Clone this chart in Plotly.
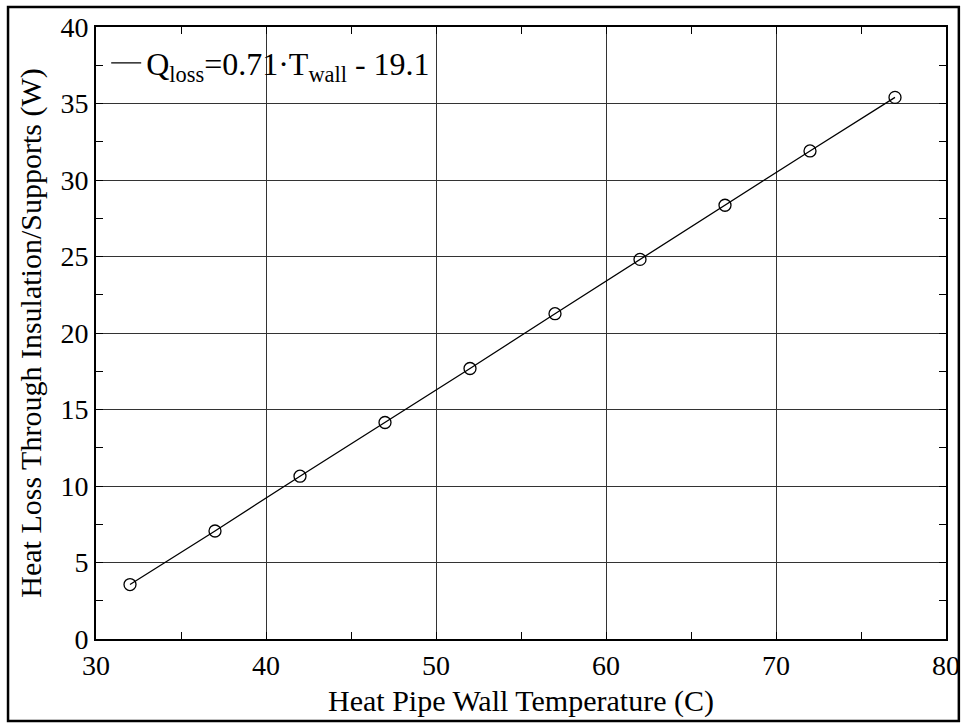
import plotly.graph_objects as go

# Measured heat loss vs. heat pipe wall temperature
wall_temp_c = [32, 37, 42, 47, 52, 57, 62, 67, 72, 77]
heat_loss_w = [3.56, 7.06, 10.64, 14.15, 17.68, 21.26, 24.81, 28.35, 31.9, 35.4]

x_ticks = [30, 40, 50, 60, 70, 80]
y_ticks = [0, 5, 10, 15, 20, 25, 30, 35, 40]

FONT = "Liberation Serif"
TICK_SIZE = 28
TITLE_SIZE = 30

fig = go.Figure()

# Line (shown in the legend as a plain line sample)
fig.add_trace(go.Scatter(
    x=wall_temp_c, y=heat_loss_w, mode="lines",
    line=dict(color="black", width=1.3),
    name="Q<sub>loss</sub>=0.71·T<sub>wall</sub> - 19.1",
    showlegend=True,
))
# Open circle markers at each measurement
fig.add_trace(go.Scatter(
    x=wall_temp_c, y=heat_loss_w, mode="markers",
    marker=dict(symbol="circle-open", size=12, color="black",
                line=dict(color="black", width=1.3)),
    showlegend=False,
))

L, R, T, B = 96, 16, 27, 85
W, H = 972, 724
pw, ph = W - L - R, H - T - B

axis_common = dict(
    showline=True, linecolor="black", linewidth=2, mirror="ticks",
    showgrid=True, gridcolor="#333333", gridwidth=1,
    ticks="inside", ticklen=0, tickcolor="black",
    zeroline=False,
    tickfont=dict(family=FONT, size=TICK_SIZE, color="black"),
    minor=dict(ticks="inside", ticklen=7, tickwidth=1.2, tickcolor="black",
               showgrid=False),
)

fig.update_layout(
    width=W, height=H,
    margin=dict(l=L, r=R, t=T, b=B),
    paper_bgcolor="white", plot_bgcolor="white",
    font=dict(family=FONT, size=TICK_SIZE, color="black"),
    xaxis=dict(
        range=[30, 80], tickvals=x_ticks,
        title=dict(text="Heat Pipe Wall Temperature (C)",
                   font=dict(family=FONT, size=TITLE_SIZE), standoff=10),
        **axis_common,
    ),
    yaxis=dict(
        range=[0, 40], tickvals=y_ticks,
        title=dict(text="Heat Loss Through Insulation/Supports (W)",
                   font=dict(family=FONT, size=TITLE_SIZE), standoff=10),
        **axis_common,
    ),
    legend=dict(
        x=0.012, y=(T + ph - 63) / ph, xanchor="left", yanchor="middle",
        bgcolor="rgba(0,0,0,0)", borderwidth=0,
        font=dict(family=FONT, size=32, color="black"),
        itemwidth=30,
    ),
)
fig.update_xaxes(minor_dtick=5)
fig.update_yaxes(minor_dtick=2.5)

# Outer frame around the whole figure
fig.add_shape(
    type="rect", xref="paper", yref="paper",
    x0=(7 - L) / pw, x1=(969 - L) / pw,
    y0=(T + ph - 721) / ph, y1=(T + ph - 7) / ph,
    line=dict(color="black", width=2.5), fillcolor="rgba(0,0,0,0)",
    layer="below",
)

fig.write_html("out.html")
